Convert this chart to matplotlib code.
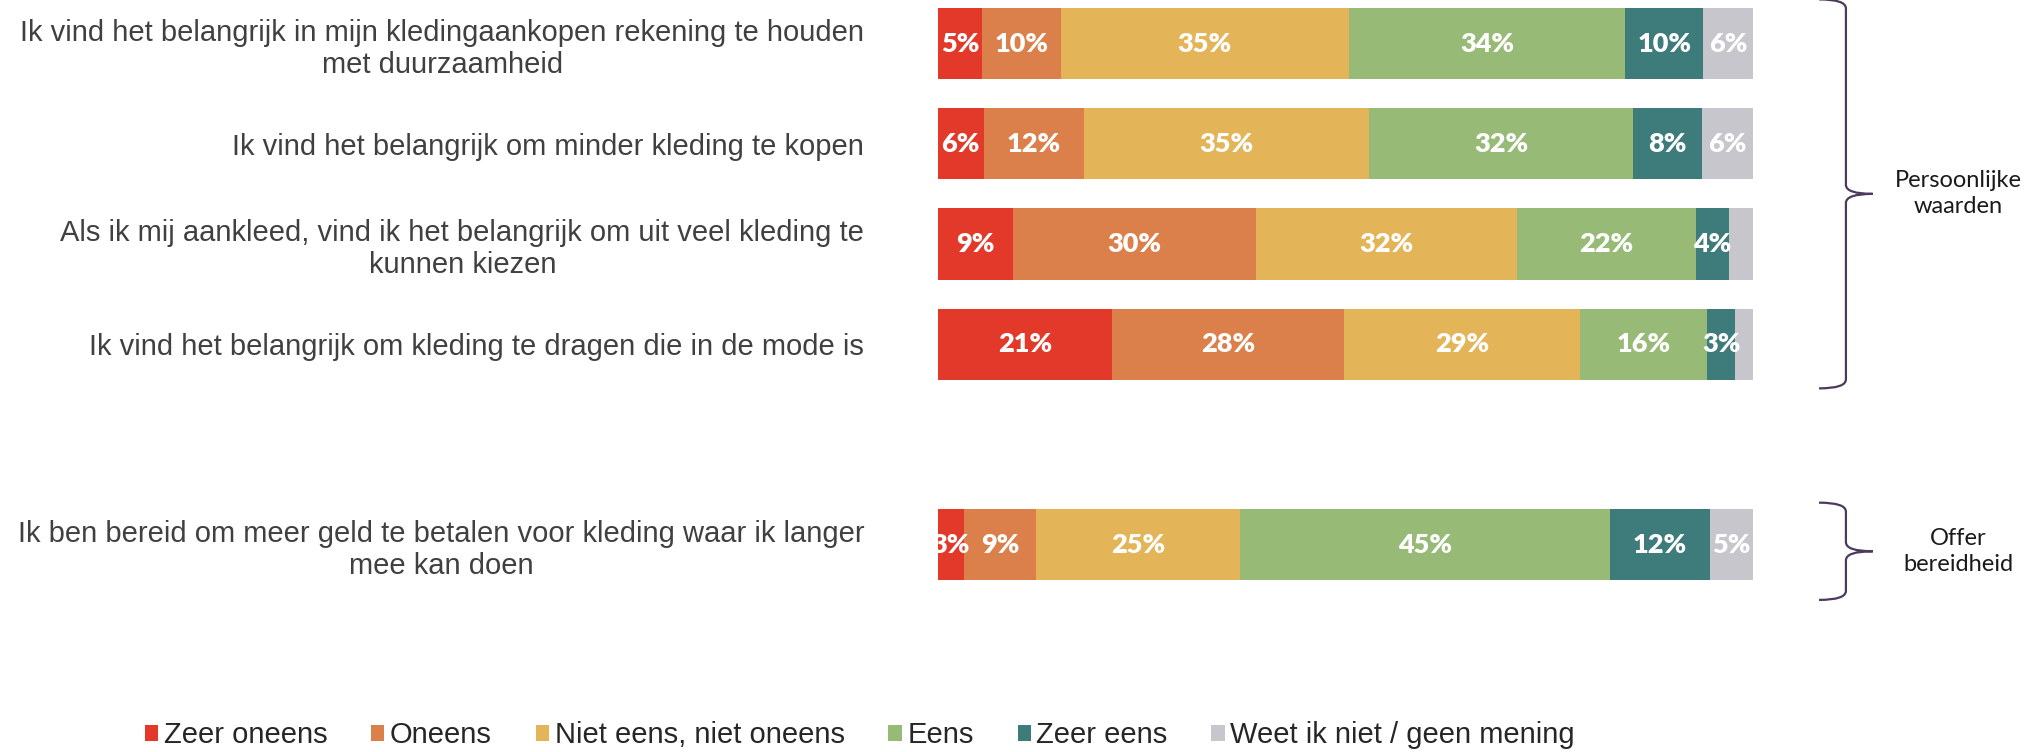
import matplotlib.pyplot as plt
from matplotlib.patches import Patch, PathPatch
from matplotlib.path import Path
from matplotlib.transforms import blended_transform_factory

# stellingen (y-as) en hun rijpositie; rij 4 blijft leeg als scheiding
statements = [
    'Ik vind het belangrijk in mijn kledingaankopen rekening te houden\nmet duurzaamheid',
    'Ik vind het belangrijk om minder kleding te kopen',
    'Als ik mij aankleed, vind ik het belangrijk om uit veel kleding te\nkunnen kiezen',
    'Ik vind het belangrijk om kleding te dragen die in de mode is',
    'Ik ben bereid om meer geld te betalen voor kleding waar ik langer\nmee kan doen',
]
row_pos = [0, 1, 2, 3, 5]

answers = ['Zeer oneens', 'Oneens', 'Niet eens, niet oneens', 'Eens', 'Zeer eens',
           'Weet ik niet / geen mening']
colors = ['#E3392A', '#DB7F4B', '#E4B458', '#97BA77', '#3E7B7B', '#C6C6CC']

# percentages per antwoord (per stelling)
zeer_oneens = [5.4, 5.6, 9.2, 21.4, 3.2]
oneens = [9.7, 12.3, 29.8, 28.4, 8.8]
neutraal = [35.3, 35.0, 32.0, 29.0, 25.1]
eens = [33.9, 32.4, 22.0, 15.6, 45.3]
zeer_eens = [9.6, 8.4, 4.1, 3.4, 12.3]
weet_niet = [6.1, 6.3, 2.9, 2.2, 5.3]
series = [zeer_oneens, oneens, neutraal, eens, zeer_eens, weet_niet]

# groepen met accolade: (tekst, eerste rij, laatste rij)
groups = [('Persoonlijke\nwaarden', 0, 3), ('Offer\nbereidheid', 5, 5)]

fig = plt.figure(figsize=(20.32, 7.52), dpi=100)
ax = fig.add_axes([0.4616, 0.1356, 0.4011, 0.8644])

left = [0.0] * len(row_pos)
for name, vals, col in zip(answers, series, colors):
    bars = ax.barh(row_pos, vals, left=left, height=0.71, color=col, linewidth=0, label=name)
    labels = [f'{v:.0f}%' if v >= 3 else '' for v in vals]
    ax.bar_label(bars, labels=labels, label_type='center', color='white',
                 fontsize=19.5, fontweight='heavy', family='Lato')
    left = [l + v for l, v in zip(left, vals)]

ax.set_xlim(0, 100)
ax.set_ylim(6.05, -0.434)
ax.set_yticks(row_pos)
ax.set_yticklabels(statements, fontsize=21, color='#404040', family='Liberation Sans')
for lbl in ax.get_yticklabels():
    lbl.set_multialignment('center')
ax.tick_params(axis='y', length=0, pad=53)
ax.set_xticks([])
for s in ax.spines.values():
    s.set_visible(False)

# accolades rechts van de balken
tr = blended_transform_factory(ax.transAxes, ax.transData)
x_hook, x_line, x_tip = 1.081, 1.114, 1.147
r = 0.09
for text, first, last in groups:
    if first == last:
        y0, y1 = first - 0.42, last + 0.55
    else:
        y0, y1 = first - 0.44, last + 0.44
    ym = (y0 + y1) / 2
    verts = [(x_hook, y0), (x_line, y0), (x_line, y0 + r),
             (x_line, ym - r), (x_line, ym), (x_tip, ym),
             (x_line, ym), (x_line, ym + r),
             (x_line, y1 - r), (x_line, y1), (x_hook, y1)]
    codes = [Path.MOVETO, Path.CURVE3, Path.CURVE3,
             Path.LINETO, Path.CURVE3, Path.CURVE3,
             Path.CURVE3, Path.CURVE3,
             Path.LINETO, Path.CURVE3, Path.CURVE3]
    ax.add_patch(PathPatch(Path(verts, codes), transform=tr, fill=False,
                           edgecolor='#4B3A5C', linewidth=1.6, clip_on=False))
    ax.text(1.252, ym, text, transform=tr, ha='center', va='center',
            fontsize=17, family='Lato', color='#1a1a1a', linespacing=1.3)

handles = [Patch(facecolor=c, edgecolor='none') for c in colors]
fig.legend(handles, answers, loc='center', bbox_to_anchor=(0.4232, 0.022), ncol=6,
           frameon=False, prop={'family': 'Liberation Sans', 'size': 21},
           labelcolor='#262626', handlelength=0.45, handleheight=0.45,
           handletextpad=0.2, columnspacing=1.5)

plt.savefig('out.png', dpi=100)
